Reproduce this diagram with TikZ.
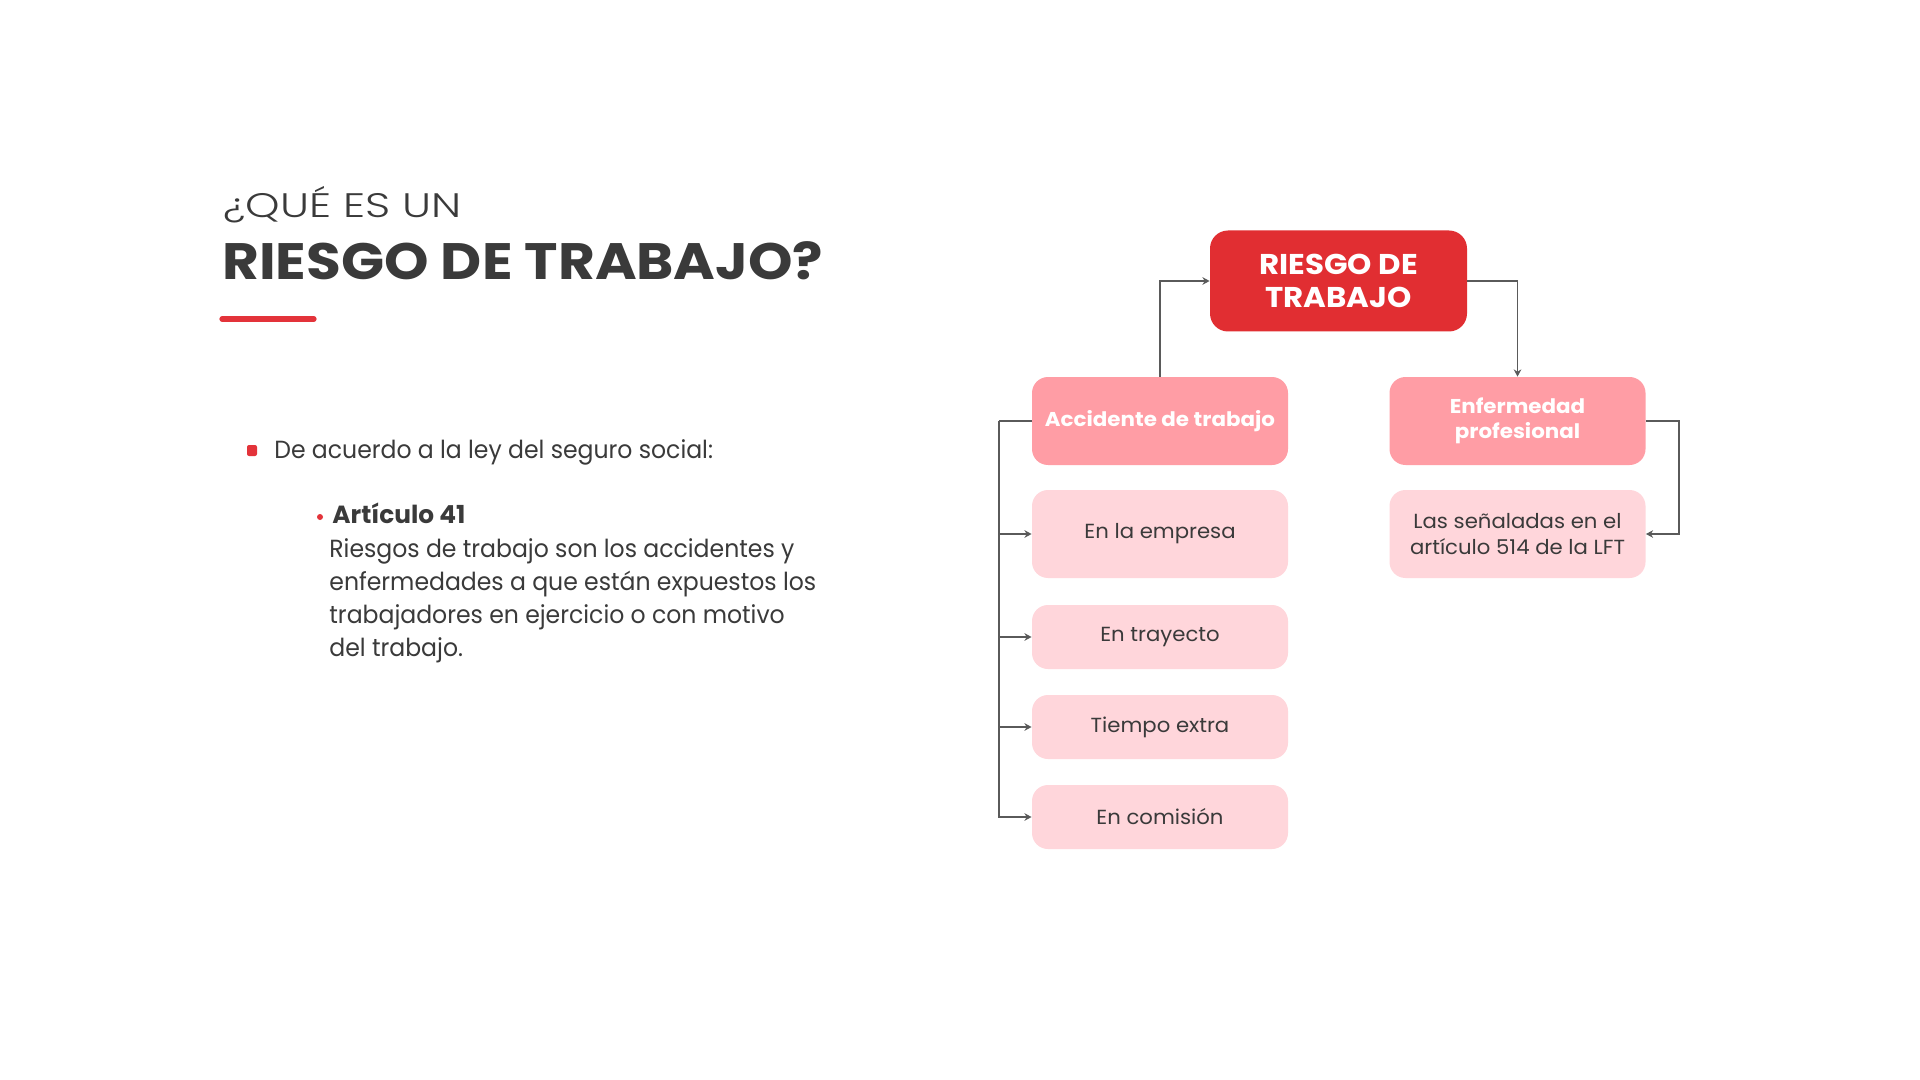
\documentclass[tikz,border=0pt]{standalone}
\usepackage{fontspec}
\setmainfont{Poppins}
\newfontfamily\plight{Poppins}[UprightFont={* Light}, FakeStretch=1.29]
\newfontfamily\ptitle{Poppins}[FakeStretch=1.105]
\newfontfamily\pbody{Poppins}[FakeStretch=0.95]
\newfontfamily\pmain{Poppins}[FakeStretch=1.08]
\newfontfamily\pmid{Poppins}[FakeStretch=1.07]
\newfontfamily\pleaf{Poppins}[FakeStretch=1.04]
\usetikzlibrary{arrows.meta}
\definecolor{txt}{HTML}{3A3A3A}
\definecolor{redA}{HTML}{E12E32}
\definecolor{pinkA}{HTML}{FF9DA5}
\definecolor{pinkB}{HTML}{FFD6DB}
\definecolor{lin}{HTML}{5A5A5A}
\definecolor{bul}{HTML}{E3333A}
\tikzset{
  mainbox/.style={rectangle, rounded corners=9pt, fill=redA, text=white, inner sep=0pt,
    minimum width=128.5pt, minimum height=50.5pt, align=center,
    font=\pmain\fontsize{14.3}{16.5}\selectfont\bfseries},
  midbox/.style={rectangle, rounded corners=8pt, fill=pinkA, text=white, inner sep=0pt,
    minimum width=128pt, minimum height=44pt, align=center,
    font=\pmid\fontsize{10}{12.5}\selectfont\bfseries},
  leafbox/.style={rectangle, rounded corners=8pt, fill=pinkB, text=txt, inner sep=0pt,
    minimum width=128pt, align=center,
    font=\pleaf\fontsize{10.2}{13}\selectfont},
  tall/.style={minimum height=44pt},
  short/.style={minimum height=32pt},
  conn/.style={draw=lin, line width=0.65pt, -{Stealth[length=3.6pt,width=3.8pt]}},
  plain/.style={draw=lin, line width=0.65pt},
  bodytxt/.style={anchor=base west, inner sep=0pt, text=txt, font=\pbody\fontsize{12.4}{16.5}\selectfont},
}
\begin{document}
\begin{tikzpicture}[x=0.5pt,y=-0.5pt]
\useasboundingbox (0,0) rectangle (1920,1080);
\fill[white] (0,0) rectangle (1920,1080);

% Title
\node[anchor=base west, inner sep=0pt, text=txt, font=\plight\fontsize{17}{20}\selectfont] (t1) at (223,218) {¿QUÉ ES UN};
\node[anchor=base west, inner sep=0pt, text=txt, font=\ptitle\fontsize{25.6}{30}\selectfont\bfseries] (t2) at (222,280) {RIESGO DE TRABAJO?};
\draw[bul, line width=2.6pt, line cap=round] (222,319) -- (314,319);

% Bullets
\fill[bul, rounded corners=1pt] (247,445) rectangle (257,456);
\node[bodytxt] (b1) at (274,458) {De acuerdo a la ley del seguro social:};
\fill[bul] (320,517) circle (3);
\node[bodytxt, font=\fontsize{12.4}{16.5}\selectfont\bfseries] (b2) at (332,523) {Artículo 41};
\node[bodytxt] (l1) at (329,557) {Riesgos de trabajo son los accidentes y};
\node[bodytxt] (l2) at (329,590) {enfermedades a que están expuestos los};
\node[bodytxt] (l3) at (329,623) {trabajadores en ejercicio o con motivo};
\node[bodytxt] (l4) at (329,656) {del trabajo.};

% Diagram
\node[mainbox] (main) at (1338.5,281) {RIESGO DE\\TRABAJO};
\node[midbox] (acc) at (1160,421) {Accidente de trabajo};
\node[midbox] (enf) at (1517.5,421) {Enfermedad\\profesional};
\node[leafbox, tall] (emp) at (1160,534) {En la empresa};
\node[leafbox, tall] (lft) at (1517.5,534) {Las señaladas en el\\artículo 514 de la LFT};
\node[leafbox, short] (tray) at (1160,637) {En trayecto};
\node[leafbox, short] (tiem) at (1160,727) {Tiempo extra};
\node[leafbox, short] (com) at (1160,817) {En comisión};

\coordinate (lt) at (999,421);
\coordinate (rt) at (1679,421);

\draw[conn] (acc.north) |- (main.west);
\draw[conn] (main.east) -| (enf.north);
\draw[plain] (acc.west) -- (lt);
\draw[conn] (lt) |- (com.west);
\draw[conn] (lt |- emp.west) -- (emp.west);
\draw[conn] (lt |- tray.west) -- (tray.west);
\draw[conn] (lt |- tiem.west) -- (tiem.west);
\draw[conn] (enf.east) -- (rt) |- (lft.east);
\end{tikzpicture}
\end{document}
